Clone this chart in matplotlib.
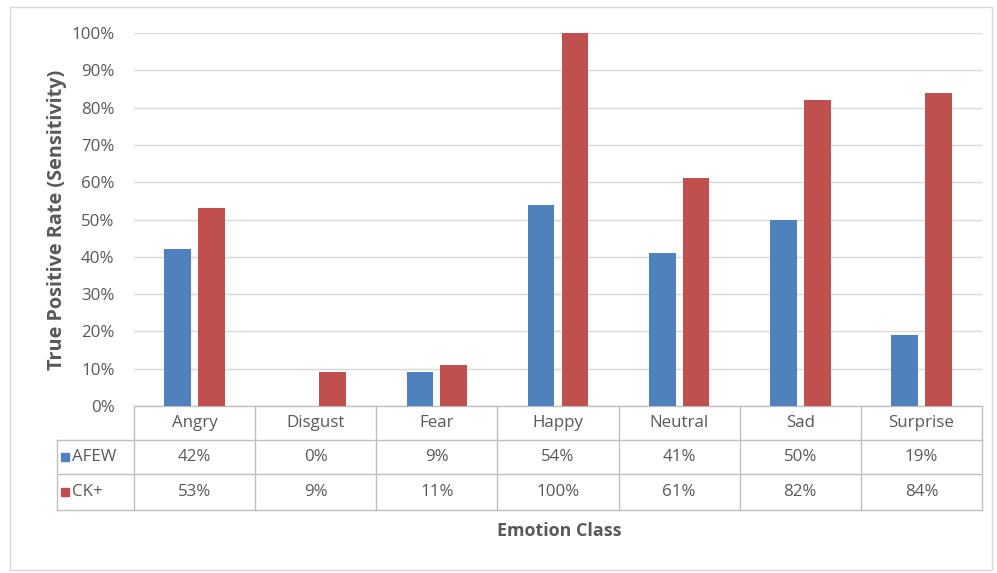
import matplotlib
matplotlib.use("Agg")
import matplotlib.pyplot as plt
from matplotlib.transforms import blended_transform_factory
from matplotlib.patches import Rectangle
import numpy as np

categories = ["Angry", "Disgust", "Fear", "Happy", "Neutral", "Sad", "Surprise"]
afew = [42, 0, 9, 54, 41, 50, 19]
ckplus = [53, 9, 11, 100, 61, 82, 84]
series_names = ["AFEW", "CK+"]
yticks = [0, 10, 20, 30, 40, 50, 60, 70, 80, 90, 100]

plt.rcParams['font.family'] = ['Open Sans', 'DejaVu Sans']
TXT = "#595959"
GRID = "#d9d9d9"
LINE = "#bfbfbf"
BLUE = "#4F81BD"
RED = "#C0504D"
FS = 12.2

W, H = 997, 573
fig = plt.figure(figsize=(W / 100, H / 100), dpi=100)
fig.patch.set_facecolor("white")

# outer chart frame
fig.add_artist(Rectangle((10 / W, 1 - 570 / H), 982 / W, 563 / H,
                         transform=fig.transFigure, fill=False,
                         edgecolor="#d9d9d9", linewidth=1))

left, right, top, bottom = 134, 982, 33, 406
ax = fig.add_axes([left / W, 1 - bottom / H, (right - left) / W, (bottom - top) / H])

x = np.arange(len(categories))
bw = 0.22
ax.bar(x - 0.14, afew, width=bw, color=BLUE, zorder=3)
ax.bar(x + 0.14, ckplus, width=bw, color=RED, zorder=3)

ax.set_xlim(-0.5, len(categories) - 0.5)
ax.set_ylim(0, 100)
ax.set_yticks(yticks)
ax.set_yticklabels([f"{v}%" for v in yticks], color=TXT, fontsize=FS)
ax.tick_params(axis='y', length=0, pad=14)
ax.set_xticks([])
ax.yaxis.grid(True, color=GRID, linewidth=1, zorder=0)
for s in ["top", "right", "left"]:
    ax.spines[s].set_visible(False)
ax.spines["bottom"].set_color(LINE)
ax.spines["bottom"].set_linewidth(1)

ax.set_ylabel("True Positive Rate (Sensitivity)", color=TXT, fontsize=14.3,
              fontweight="bold", labelpad=3)

# data table below axes
ph = bottom - top
rows_px = [406, 440, 474, 510]
rows = [-(r - bottom) / ph for r in rows_px]
tr = blended_transform_factory(ax.transData, ax.transAxes)
leg_left = -0.5 - (left - 57) / ((right - left) / len(categories))

lk = dict(color=LINE, linewidth=1, transform=tr, clip_on=False)
# horizontal lines
ax.plot([leg_left, 6.5], [rows[1], rows[1]], **lk)
ax.plot([leg_left, 6.5], [rows[2], rows[2]], **lk)
ax.plot([leg_left, 6.5], [rows[3], rows[3]], **lk)
# vertical lines
for b in np.arange(-0.5, len(categories) + 0.5, 1.0):
    ax.plot([b, b], [rows[0], rows[3]], **lk)
ax.plot([leg_left, leg_left], [rows[1], rows[3]], **lk)

tk = dict(transform=tr, ha="center", va="center", color=TXT, fontsize=FS, clip_on=False)
for i, c in enumerate(categories):
    ax.text(i, (rows[0] + rows[1]) / 2, c, **tk)
    ax.text(i, (rows[1] + rows[2]) / 2, f"{afew[i]}%", **tk)
    ax.text(i, (rows[2] + rows[3]) / 2, f"{ckplus[i]}%", **tk)

for name, col, (r0, r1) in zip(series_names, [BLUE, RED], [(rows[1], rows[2]), (rows[2], rows[3])]):
    ym = (r0 + r1) / 2
    ax.plot([leg_left + 0.07], [ym], marker="s", markersize=6, color=col,
            transform=tr, clip_on=False, linestyle="none")
    ax.text(leg_left + 0.12, ym, name, transform=tr, ha="left", va="center",
            color=TXT, fontsize=FS, clip_on=False)

fig.text(559 / W, 1 - 531 / H, "Emotion Class", ha="center", va="center",
         color=TXT, fontsize=12.9, fontweight="bold")

fig.savefig("out.png", dpi=100)
